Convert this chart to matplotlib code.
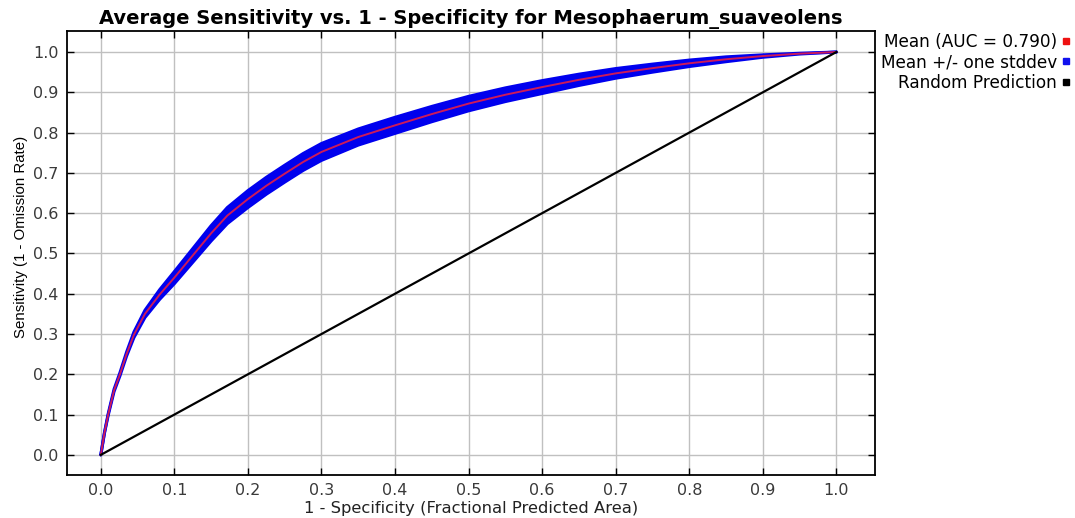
import numpy as np
from matplotlib import pyplot as plt
from matplotlib.lines import Line2D

plt.rcParams['font.family'] = ['DejaVu Sans']

# mean ROC curve
fpr = [0.0, 0.005, 0.01, 0.018, 0.026, 0.035, 0.045, 0.06, 0.08, 0.1,
       0.125, 0.15, 0.172, 0.2, 0.225, 0.25, 0.275, 0.3, 0.35, 0.4,
       0.45, 0.5, 0.55, 0.6, 0.65, 0.7, 0.75, 0.8, 0.85, 0.9,
       0.95, 1.0]
tpr = [0.0, 0.055, 0.1, 0.16, 0.2, 0.25, 0.298, 0.35, 0.398, 0.44,
       0.495, 0.55, 0.594, 0.635, 0.668, 0.698, 0.727, 0.752, 0.789, 0.818,
       0.846, 0.872, 0.894, 0.913, 0.931, 0.947, 0.96, 0.972, 0.982, 0.99,
       0.996, 1.0]
std = [0.0, 0.001, 0.002, 0.003, 0.004, 0.005, 0.007, 0.009, 0.012, 0.015,
       0.017, 0.019, 0.02, 0.021, 0.021, 0.021, 0.021, 0.021, 0.02, 0.02,
       0.019, 0.018, 0.017, 0.016, 0.014, 0.012, 0.01, 0.008, 0.006, 0.003,
       0.001, 0.0]
auc = 0.790

ticks = [round(0.1 * i, 1) for i in range(11)]

fpr = np.array(fpr)
tpr = np.array(tpr)
std = np.array(std)

fig = plt.figure(figsize=(10.75, 5.18), dpi=100)
ax = fig.add_axes([0.0623, 0.083, 0.752, 0.857])

# std band
ax.fill_between(fpr, tpr - std, tpr + std, color='#0000ee', lw=0, zorder=2)
ax.plot(fpr, tpr + std, color='#0000ee', lw=2.2, zorder=2, solid_capstyle='round')
ax.plot(fpr, tpr - std, color='#0000ee', lw=2.2, zorder=2, solid_capstyle='round')
# mean
ax.plot(fpr, tpr, color='#cc1a5a', lw=1.4, zorder=3)
# random
ax.plot([0, 1], [0, 1], color='black', lw=1.6, zorder=3)

ax.set_xlim(-0.046, 1.053)
ax.set_ylim(-0.05, 1.052)
ax.set_xticks(ticks)
ax.set_yticks(ticks)
ax.set_xticklabels([f'{t:.1f}' for t in ticks])
ax.set_yticklabels([f'{t:.1f}' for t in ticks])
ax.tick_params(direction='in', top=True, right=True, length=5, width=1,
               labelsize=11.5, labelcolor='#3a3a3a', pad=6)
ax.grid(True, color='#c0c0c0', lw=1)
ax.set_axisbelow(True)
for s in ax.spines.values():
    s.set_linewidth(1.3)

ax.set_title('Average Sensitivity vs. 1 - Specificity for Mesophaerum_suaveolens',
             fontsize=14, fontweight='bold', pad=5)
ax.set_xlabel('1 - Specificity (Fractional Predicted Area)', fontsize=11.8,
              color='#222222', labelpad=2)
ax.set_ylabel('Sensitivity (1 - Omission Rate)', fontsize=10.8,
              family=['Liberation Sans Narrow', 'Liberation Sans'])
ax.yaxis.set_label_coords(-0.048, 0.536)

handles = [Line2D([], [], marker='s', ls='none', color='#ee1111', markersize=5),
           Line2D([], [], marker='s', ls='none', color='#1111ee', markersize=5),
           Line2D([], [], marker='s', ls='none', color='black', markersize=5)]
labels = [f'Mean (AUC = {auc:.3f})', 'Mean +/- one stddev', 'Random Prediction']
fig.legend(handles, labels, markerfirst=False, frameon=False, fontsize=12.2,
           loc='upper right', bbox_to_anchor=(0.999, 0.94),
           bbox_transform=fig.transFigure, handletextpad=0.2, borderpad=0.1,
           labelspacing=0.15, borderaxespad=0, handlelength=0.7)

fig.savefig('out.png')
